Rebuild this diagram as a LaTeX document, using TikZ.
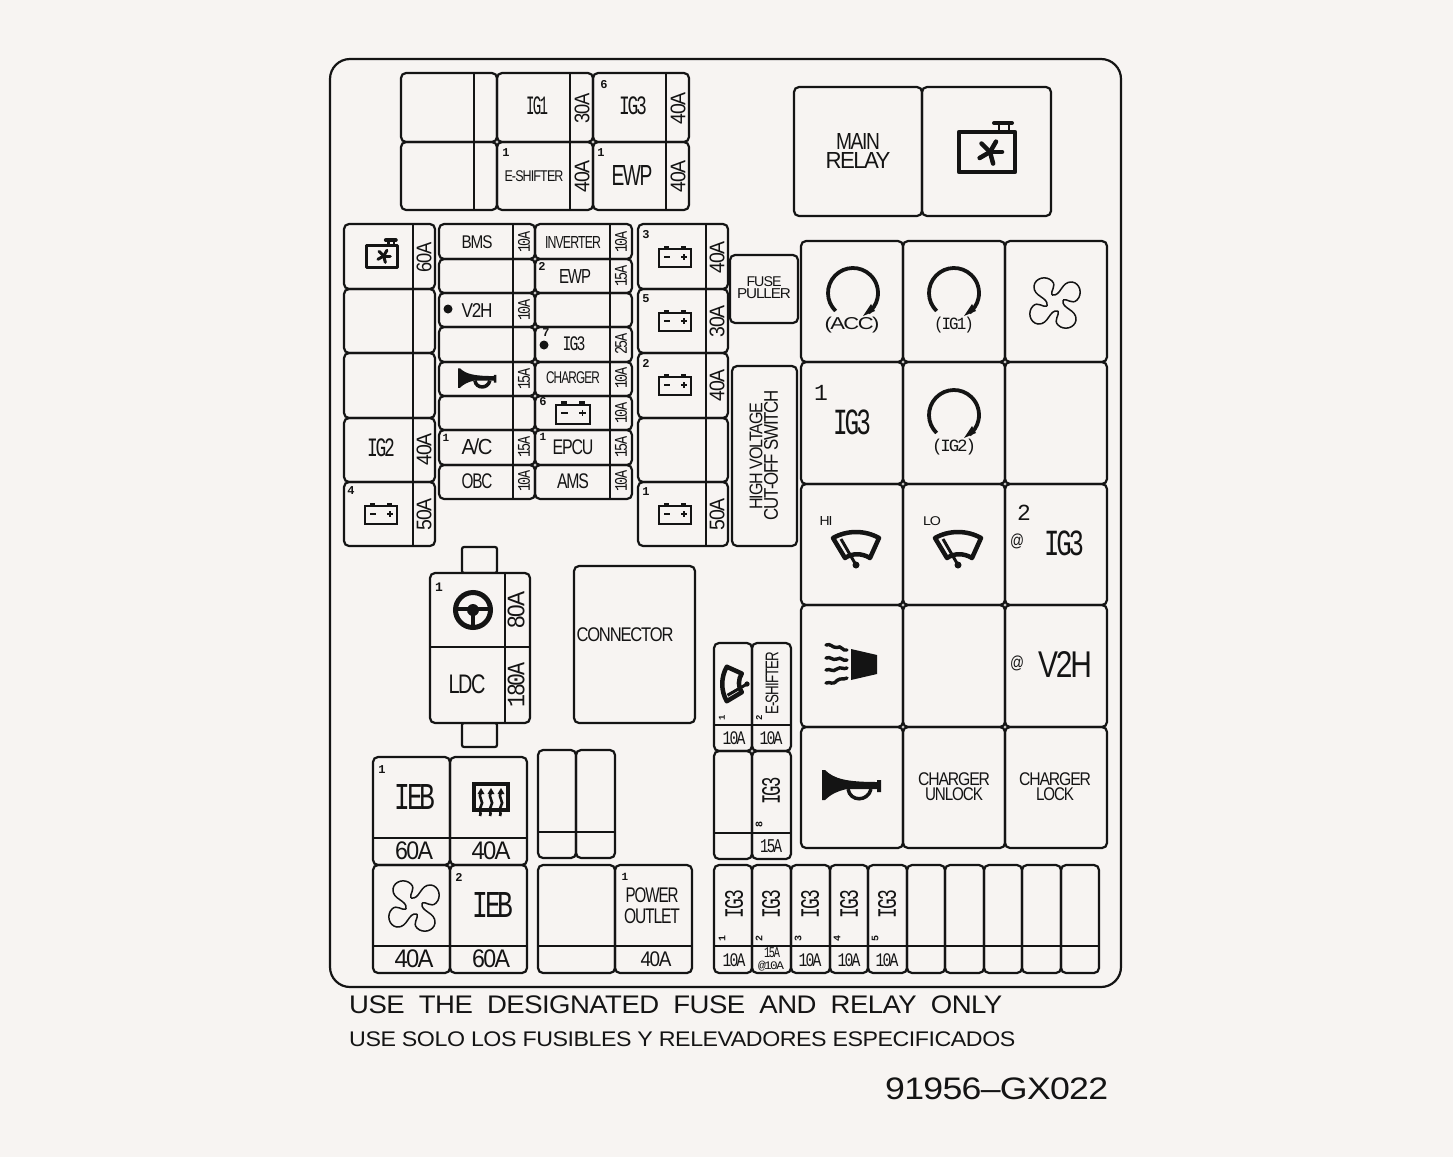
\documentclass[tikz,border=0pt]{standalone}
\usepackage{graphicx}
\usepackage{fontspec}
\setmainfont{Liberation Sans}
\newfontfamily\platefont[LetterSpace=-7]{Liberation Sans}
\newfontfamily\slabfont[LetterSpace=-12]{Liberation Mono}
\newfontfamily\notefont[LetterSpace=-2]{Liberation Sans}
\newfontfamily\nrfont{Liberation Mono}
\definecolor{plate}{HTML}{F7F4F2}
\definecolor{ink}{HTML}{141414}
\tikzset{
	slot/.style={draw=ink, line width=2.2pt, rounded corners=5pt},
	tabslot/.style={draw=ink, line width=2.2pt, rounded corners=2pt},
	lab/.style={inner sep=0pt, text=ink},
	battery/.pic={
		\draw[ink, line width=2pt] (-16,-8) rectangle (16,10);
		\draw[ink, line width=2.2pt] (-11,-10) -- (-6,-10) (6,-10) -- (11,-10);
		\draw[ink, line width=1.6pt] (-11,0) -- (-5,0) (6,0) -- (12,0) (9,-3) -- (9,3);
	},
	radiator/.pic={
		\draw[ink, line width=#1pt, line join=round] (-28,-20) rectangle (28,20);
		\draw[ink, line width=2.5pt] (12,-22) -- (12,-28) (22,-22) -- (22,-28);
		\draw[ink, line width=4pt, line cap=round] (7,-29) -- (25,-29);
		\foreach \a in {0,75,150,225,300}{
			\draw[ink, line width=#1pt, line cap=round] (3,0) -- +(\a:12);
		}
	},
	fan/.pic={
		\foreach \r in {0,90,180,270}{
			\begin{scope}[rotate=\r]
				\draw[ink, line width=1.5pt] (-8,3) .. controls (-6,-6) and (-22,-6) .. (-21,-17)
					.. controls (-20,-25) and (-9,-28) .. (-3,-22)
					.. controls (2,-17) and (-5,-12) .. (-3,-8);
			\end{scope}
		}
	},
	wiper/.pic={
		\draw[ink, line width=4.5pt, line join=round] (-23,-27) .. controls (-9,-35) and (9,-35) .. (23,-27)
			-- (14,-7) .. controls (6,-12) and (-4,-12) .. (-11,-7) -- cycle;
		\draw[ink, line width=3pt] (0,0) -- (-15,-26);
		\fill[ink] (0,0) circle (3.5);
	},
	horn/.pic={
		\fill[ink] (0,-15) -- (3,-15) .. controls (12,-6) and (25,-3) .. (55,-3) -- (55,-5) -- (59,-5)
			-- (59,7) -- (55,7) -- (55,4) -- (25,4) .. controls (15,6) and (8,10) .. (3,15) -- (0,15) -- cycle;
		\draw[ink, line width=3.5pt] (26,4) .. controls (28,17) and (46,17) .. (49,4);
	},
	lamp/.pic={
		\fill[ink] (29,-16) -- (29,15) -- (55,9) -- (55,-10) -- cycle;
		\foreach \ya/\yb in {-20/-15,-7/-5,5/3,18/13}{
			\draw[ink, line width=3.4pt, line cap=round] (4,\ya) .. controls (9,\ya-2) and (10,\ya+3) .. (15,{(\ya+\yb)/2})
				.. controls (19,{(\ya+\yb)/2-3}) and (21,\yb+2) .. (25,\yb);
		}
	},
	wheel/.pic={
		\draw[ink, line width=5pt] (0,0) circle (17.5);
		\fill[ink] (0,0) circle (6);
		\draw[ink, line width=4.5pt] (-17,-1) -- (17,-1) (0,0) -- (0,17);
	},
	keydial/.pic={
		\draw[ink, line width=3.8pt] (134:25) arc[start angle=134, delta angle=278, radius=25];
		\fill[ink] (10,23) -- (22,18) -- (18,11) -- cycle;
	},
	defrost/.pic={
		\draw[ink, line width=4pt] (-17,-13) rectangle (17,13);
		\foreach \x in {-10,0,10}{
			\draw[ink, line width=2.6pt] (\x,-5) .. controls (\x-4,0) and (\x+4,5) .. (\x,9) .. controls (\x-3,13) and (\x+1,16) .. (\x-1,19);
			\fill[ink] (\x-3.5,-3) -- (\x,-9) -- (\x+3.5,-3) -- cycle;
		}
	}
}
% two slots: amps at the side or at the foot
\newcommand{\slotx}[5]{\draw[slot] (#1,#2) rectangle (#3,#4); \draw[ink, line width=2.2pt] (#5,#2) -- (#5,#4);}
\newcommand{\sloty}[5]{\draw[slot] (#1,#2) rectangle (#3,#4); \draw[ink, line width=2.2pt] (#1,#5) -- (#3,#5);}
% text squeezed to the size that it has on the plate
\newcommand{\lab}[6]{\node[lab] (#1) at (#2,#3) {\resizebox*{#4pt}{#5pt}{\platefont #6}};}
\newcommand{\labr}[6]{\node[lab, rotate=90] (#1) at (#2,#3) {\resizebox*{#4pt}{#5pt}{\platefont #6}};}
\newcommand{\slab}[6]{\node[lab] (#1) at (#2,#3) {\resizebox*{#4pt}{#5pt}{\slabfont #6}};}
\newcommand{\slabr}[6]{\node[lab, rotate=90] (#1) at (#2,#3) {\resizebox*{#4pt}{#5pt}{\slabfont #6}};}
\newcommand{\nr}[5]{\node[lab, font=\fontsize{#4}{#4}\selectfont\nrfont\bfseries] (#1) at (#2,#3) {#5};}
\newcommand{\nrr}[5]{\node[lab, rotate=90, font=\fontsize{#4}{#4}\selectfont\nrfont\bfseries] (#1) at (#2,#3) {#5};}
\begin{document}
\begin{tikzpicture}[x=1pt, y=-1pt]
	\useasboundingbox (0,0) rectangle (1453,1157);
	\fill[plate] (0,0) rectangle (1453,1157);
	\draw[ink, line width=2.2pt, rounded corners=20pt] (330,59) rectangle (1121,987);
	%% Top fuses
	\foreach \ya/\yb in {73/142,142/210}{
		\slotx{401}{\ya}{497}{\yb}{474}
		\slotx{497}{\ya}{593}{\yb}{570}
		\slotx{593}{\ya}{689}{\yb}{666}
	}
	\slab{ig1top}{537}{106}{22}{18}{IG1}
	\labr{a30top}{582}{108}{30}{15}{30A}
	\nr{n6a}{604}{85}{12}{6}
	\slab{ig3top}{633}{106}{28}{18}{IG3}
	\labr{a40top}{678}{108}{32}{15}{40A}
	\nr{n1a}{506}{153}{12}{1}
	\lab{eshifter}{534}{176}{59}{11}{E-SHIFTER}
	\labr{a40es}{582}{176}{32}{15}{40A}
	\nr{n1b}{601}{153}{12}{1}
	\lab{ewptop}{632}{175}{41}{20}{EWP}
	\labr{a40ewp}{678}{176}{32}{15}{40A}
	%% Relays
	\draw[slot] (794,87) rectangle (922,216);
	\draw[slot] (922,87) rectangle (1051,216);
	\lab{main}{858}{141}{44}{16}{MAIN}
	\lab{relay}{858}{160}{65}{16}{RELAY}
	\pic at (987,152) {radiator=4.5};
	%% Left column
	\foreach \ya/\yb in {224/289,289/353,353/418,418/482,482/546}{
		\slotx{344}{\ya}{435}{\yb}{413}
		\slotx{638}{\ya}{728}{\yb}{706}
	}
	\pic[scale=.55] at (382,256) {radiator=3};
	\labr{a60l}{424}{257}{30}{15}{60A}
	\slab{ig2l}{381}{448}{28}{18}{IG2}
	\labr{a40l}{424}{449}{32}{15}{40A}
	\nr{n4}{351}{491}{12}{4}
	\pic at (381,514) {battery};
	\labr{a50l}{424}{514}{32}{15}{50A}
	%% Middle fuses
	\foreach \ya/\yb in {224/259,259/293,293/327,327/362,362/396,396/430,430/465,465/499}{
		\slotx{439}{\ya}{535}{\yb}{513}
		\slotx{535}{\ya}{632}{\yb}{610}
	}
	\foreach \y/\amp in {242/10A,310/10A,379/15A,447/15A,481/10A}{
		\slabr{amp\y}{524}{\y}{21}{12}{\amp}
	}
	\foreach \y/\amp in {242/10A,276/15A,344/25A,378/10A,413/10A,447/15A,481/10A}{
		\slabr{ampr\y}{621}{\y}{21}{12}{\amp}
	}
	\lab{bms}{477}{242}{31}{13}{BMS}
	\fill[ink] (448,309) circle (4.5);
	\lab{v2hs}{477}{310}{31}{14}{V2H}
	\pic[scale=.65] at (458,378) {horn};
	\nr{n1c}{446}{438}{11}{1}
	\lab{ac}{477}{447}{31}{16}{A/C}
	\lab{obc}{477}{481}{31}{15}{OBC}
	\lab{inverter}{573}{242}{56}{12}{INVERTER}
	\nr{n2a}{542}{266}{12}{2}
	\lab{ewps}{575}{276}{32}{14}{EWP}
	\nr{n7}{546}{333}{12}{7}
	\fill[ink] (544,345) circle (4.5);
	\slab{ig3s}{574}{344}{23}{14}{IG3}
	\lab{charger}{573}{378}{54}{12}{CHARGER}
	\nr{n6b}{543}{402}{12}{6}
	\pic[scale=1.05] at (573,413) {battery};
	\nr{n1d}{543}{437}{11}{1}
	\lab{epcu}{573}{447}{41}{15}{EPCU}
	\lab{ams}{573}{481}{32}{15}{AMS}
	%% Right fuses
	\foreach \y/\n/\amp in {257/3/40A,321/5/30A,385/2/40A,514/1/50A}{
		\pic at (675,\y) {battery};
		\labr{ampb\y}{717}{\y}{32}{15}{\amp}
		\nr{nb\y}{646}{\y-22}{12}{\n}
	}
	\draw[slot] (730,255) rectangle (798,323);
	\lab{fuse}{764}{282}{35}{10}{FUSE}
	\lab{puller}{764}{294}{54}{10}{PULLER}
	\draw[slot] (732,366) rectangle (797,546);
	\labr{high}{756}{456}{107}{13}{HIGH VOLTAGE}
	\labr{cutoff}{771}{455}{130}{14}{CUT-OFF SWITCH}
	%% Relay grid
	\foreach \xa/\xb in {801/903,903/1005,1005/1107}
		\foreach \ya/\yb in {241/362,362/484,484/605,605/727,727/848}
			\draw[slot] (\xa,\ya) rectangle (\xb,\yb);
	\pic at (853,293) {keydial};
	\lab{acc}{852}{325}{55}{16}{(ACC)}
	\pic at (954,293) {keydial};
	\slab{ignone}{954}{325}{40}{16}{(IG1)}
	\pic at (1055,303) {fan};
	\node[lab, font=\fontsize{23}{23}\selectfont\nrfont] (n1big) at (821,393) {1};
	\slab{ig3big}{852}{422}{38}{25}{IG3}
	\pic at (954,415) {keydial};
	\slab{ignt}{954}{447}{44}{16}{(IG2)}
	\lab{hi}{826}{521}{13}{9}{HI}
	\pic at (856,565) {wiper};
	\lab{lo}{932}{521}{18}{9}{LO}
	\pic at (958,565) {wiper};
	\node[lab, font=\fontsize{23}{23}\selectfont\nrfont] (n2big) at (1024,513) {2};
	\lab{ata}{1017}{541}{14}{15}{@}
	\slab{ig3bigb}{1064}{543}{40}{25}{IG3}
	\pic at (822,665) {lamp};
	\lab{atb}{1017}{663}{14}{15}{@}
	\lab{v2hbig}{1065}{664}{54}{26}{V2H}
	\pic at (822,785) {horn};
	\lab{chua}{954}{779}{72}{13}{CHARGER}
	\lab{chub}{954}{794}{58}{13}{UNLOCK}
	\lab{chla}{1055}{779}{72}{13}{CHARGER}
	\lab{chlb}{1055}{794}{38}{13}{LOCK}
	%% LDC block
	\draw[tabslot] (462,547) rectangle (497,573);
	\draw[tabslot] (462,723) rectangle (497,747);
	\fill[plate, draw=ink, line width=2.2pt, rounded corners=5pt] (430,573) rectangle (530,723);
	\draw[ink, line width=2.2pt] (505,573) -- (505,723) (430,647) -- (530,647);
	\nr{n1e}{439}{587}{13}{1}
	\pic at (473,610) {wheel};
	\labr{a80}{516}{610}{37}{17}{80A}
	\lab{ldc}{467}{684}{37}{19}{LDC}
	\slabr{a180}{516}{685}{44}{17}{180A}
	\draw[slot] (574,566) rectangle (695,723);
	\lab{connector}{625}{635}{97}{14}{CONNECTOR}
	%% Small fuses
	\sloty{714}{643}{752}{751}{725}
	\sloty{752}{643}{791}{751}{725}
	\pic[rotate=90, scale=.75] at (747,684) {wiper};
	\labr{eshr}{772}{683}{63}{13}{E-SHIFTER}
	\nrr{n1h}{722}{718}{9}{1}
	\nrr{n2h}{759}{718}{9}{2}
	\slab{a10w}{734}{738}{23}{13}{10A}
	\slab{a10e}{771}{738}{23}{13}{10A}
	\sloty{714}{751}{752}{859}{833}
	\sloty{752}{751}{791}{859}{833}
	\slabr{ig3r}{771}{791}{27}{18}{IG3}
	\nrr{n8}{759}{824}{10}{8}
	\slab{a15}{771}{846}{22}{13}{15A}
	\foreach \xa/\xb in {714/752,752/791,791/830,830/868,868/907,907/945,945/984,984/1022,1022/1061,1061/1099}{
		\sloty{\xa}{865}{\xb}{973}{946}
	}
	\foreach \x/\n in {734/1,771/2,810/3,849/4,887/5}{
		\slabr{igr\n}{\x}{904}{28}{18}{IG3}
		\nrr{nr\n}{\x-12}{938}{10}{\n}
	}
	\foreach \x in {734,810,849,887}{
		\slab{ampf\x}{\x}{960}{23}{13}{10A}
	}
	\slab{a15b}{772}{953}{16}{10}{15A}
	\slab{a10b}{771}{966}{26}{10}{@10A}
	%% Lower left
	\foreach \xa/\xb in {373/450,450/527}{
		\sloty{\xa}{757}{\xb}{865}{838}
		\sloty{\xa}{865}{\xb}{973}{946}
	}
	\sloty{538}{750}{576}{858}{832}
	\sloty{576}{750}{615}{858}{832}
	\sloty{538}{865}{615}{973}{946}
	\sloty{615}{865}{692}{973}{946}
	\nr{n1f}{382}{770}{12}{1}
	\slab{ieba}{415}{797}{41}{25}{IEB}
	\lab{a60a}{414}{851}{38}{18}{60A}
	\pic at (491,797) {defrost};
	\lab{a40a}{491}{851}{39}{18}{40A}
	\pic at (414,906) {fan};
	\lab{a40b}{414}{959}{39}{18}{40A}
	\nr{n2b}{459}{877}{12}{2}
	\slab{iebb}{493}{905}{41}{25}{IEB}
	\lab{a60b}{491}{959}{38}{18}{60A}
	\nr{n1g}{625}{877}{11}{1}
	\lab{power}{652}{895}{53}{15}{POWER}
	\lab{outlet}{652}{916}{56}{15}{OUTLET}
	\lab{a40c}{656}{959}{31}{15}{40A}
	%% Notes
	\node[lab, anchor=west] (noteen) at (349,1005) {\resizebox*{653pt}{18pt}{\notefont USE\ \ THE\ \ DESIGNATED\ \ FUSE\ \ AND\ \ RELAY\ \ ONLY}};
	\node[lab, anchor=west] (notees) at (349,1039) {\resizebox*{666pt}{15pt}{\notefont USE SOLO LOS FUSIBLES Y RELEVADORES ESPECIFICADOS}};
	\node[lab, anchor=west] (partno) at (885,1089) {\resizebox*{223pt}{22pt}{\notefont 91956–GX022}};
\end{tikzpicture}
\end{document}
